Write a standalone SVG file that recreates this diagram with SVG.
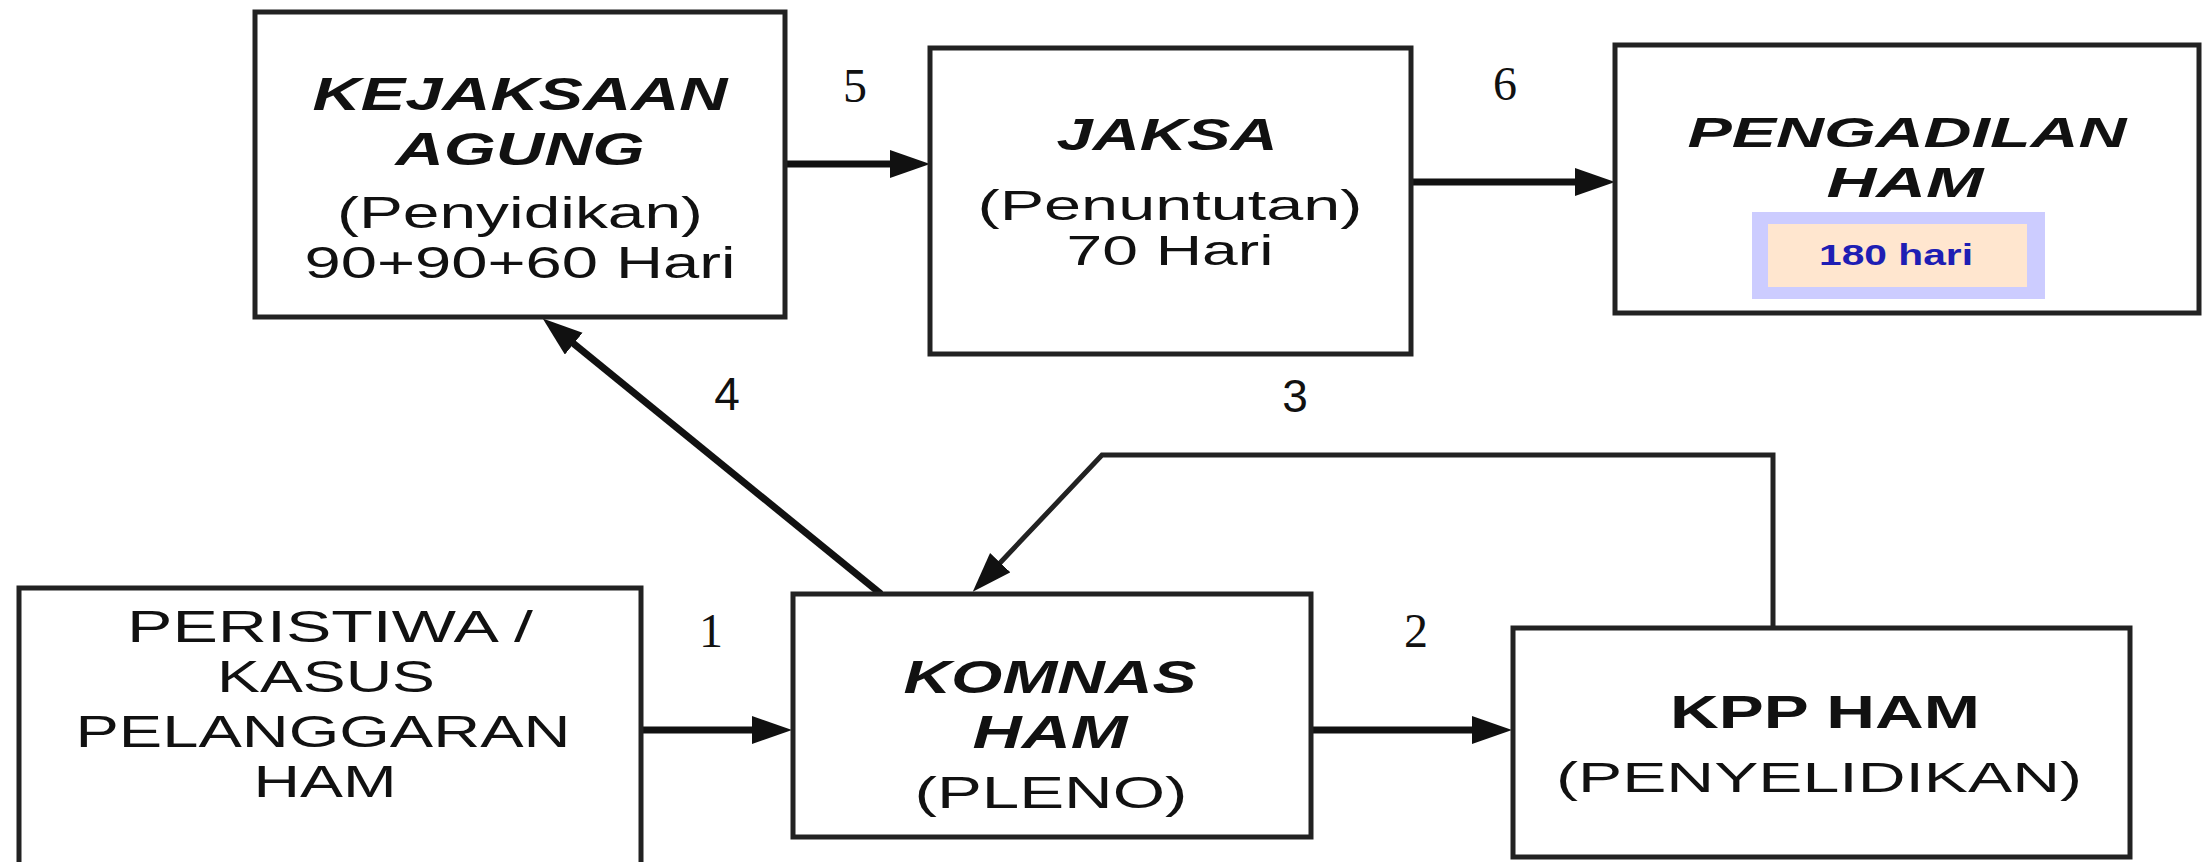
<svg xmlns="http://www.w3.org/2000/svg" width="2206" height="862" viewBox="0 0 2206 862">
  <style>
    .box { fill: #ffffff; stroke: #222222; stroke-width: 5; }
    .t { font-family: "Liberation Sans", Arial, sans-serif; fill: #111111; text-anchor: middle; }
    .title { font-weight: bold; font-style: italic; }
    .bold { font-weight: bold; }
    .num { font-family: "Liberation Serif", "Times New Roman", serif; font-size: 48px; fill: #111111; text-anchor: middle; }
    .nums { font-family: "Liberation Sans", Arial, sans-serif; font-size: 46px; fill: #111111; text-anchor: middle; }
    .flow { fill: none; stroke: #111111; stroke-width: 7; }
    .flow-thin { fill: none; stroke: #222222; stroke-width: 5; }
  </style>
  <defs>
    <marker id="head" markerUnits="userSpaceOnUse" markerWidth="42" markerHeight="30" refX="28" refY="14" orient="auto">
      <path d="M0,0 L40,14 L0,28 z" fill="#111111"/>
    </marker>
  </defs>

  <rect width="2206" height="862" fill="#ffffff"/>

  <!-- connectors -->
  <g id="connectors">
    <path class="flow" d="M640,730 L780,730" marker-end="url(#head)"/>
    <path class="flow" d="M1311,730 L1500,730" marker-end="url(#head)"/>
    <path class="flow-thin" d="M1773,628 V455 H1102 L981,583" marker-end="url(#head)"/>
    <path class="flow" d="M881,594 L552,326" marker-end="url(#head)"/>
    <path class="flow" d="M785,164 L918,164" marker-end="url(#head)"/>
    <path class="flow" d="M1411,182 L1603,182" marker-end="url(#head)"/>
    <text class="num" x="711" y="647">1</text>
    <text class="num" x="1416" y="647">2</text>
    <text class="nums" x="1295" y="412">3</text>
    <text class="nums" x="727" y="410">4</text>
    <text class="num" x="855" y="102">5</text>
    <text class="num" x="1505" y="100">6</text>
  </g>

  <g id="kejaksaan">
    <rect class="box" x="255" y="12" width="530" height="305"/>
    <text class="t title" x="520" y="110" font-size="47" textLength="415" lengthAdjust="spacingAndGlyphs">KEJAKSAAN</text>
    <text class="t title" x="520" y="165" font-size="47" textLength="249" lengthAdjust="spacingAndGlyphs">AGUNG</text>
    <text class="t" x="520" y="228" font-size="44" textLength="366" lengthAdjust="spacingAndGlyphs">(Penyidikan)</text>
    <text class="t" x="520" y="278" font-size="44" textLength="431" lengthAdjust="spacingAndGlyphs">90+90+60 Hari</text>
  </g>

  <g id="jaksa">
    <rect class="box" x="930" y="48" width="481" height="306"/>
    <text class="t title" x="1167" y="150" font-size="44" textLength="221" lengthAdjust="spacingAndGlyphs">JAKSA</text>
    <text class="t" x="1170" y="220" font-size="42" textLength="385" lengthAdjust="spacingAndGlyphs">(Penuntutan)</text>
    <text class="t" x="1170" y="265" font-size="42" textLength="207" lengthAdjust="spacingAndGlyphs">70 Hari</text>
  </g>

  <g id="pengadilan">
    <rect class="box" x="1615" y="45" width="584" height="268"/>
    <text class="t title" x="1907" y="147" font-size="42" textLength="439" lengthAdjust="spacingAndGlyphs">PENGADILAN</text>
    <text class="t title" x="1905" y="197" font-size="42" textLength="157" lengthAdjust="spacingAndGlyphs">HAM</text>
    <rect x="1752" y="212" width="293" height="87" fill="#ccccff"/>
    <rect x="1768" y="224" width="259" height="63" fill="#ffe6cf"/>
    <text class="t bold" x="1896" y="265" font-size="30" fill="#1e1eb4" style="fill:#1e1eb4" textLength="154" lengthAdjust="spacingAndGlyphs">180 hari</text>
  </g>

  <g id="peristiwa">
    <rect class="box" x="19" y="588" width="622" height="278"/>
    <text class="t" x="330" y="642" font-size="44" textLength="406" lengthAdjust="spacingAndGlyphs">PERISTIWA /</text>
    <text class="t" x="326" y="692" font-size="44" textLength="218" lengthAdjust="spacingAndGlyphs">KASUS</text>
    <text class="t" x="323" y="747" font-size="44" textLength="495" lengthAdjust="spacingAndGlyphs">PELANGGARAN</text>
    <text class="t" x="325" y="797" font-size="44" textLength="143" lengthAdjust="spacingAndGlyphs">HAM</text>
  </g>

  <g id="komnas">
    <rect class="box" x="793" y="594" width="518" height="243"/>
    <text class="t title" x="1050" y="693" font-size="46" textLength="293" lengthAdjust="spacingAndGlyphs">KOMNAS</text>
    <text class="t title" x="1050" y="748" font-size="46" textLength="155" lengthAdjust="spacingAndGlyphs">HAM</text>
    <text class="t" x="1051" y="808" font-size="44" textLength="273" lengthAdjust="spacingAndGlyphs">(PLENO)</text>
  </g>

  <g id="kpp">
    <rect class="box" x="1513" y="628" width="617" height="229"/>
    <text class="t bold" x="1825" y="728" font-size="46" textLength="310" lengthAdjust="spacingAndGlyphs">KPP HAM</text>
    <text class="t" x="1819" y="792" font-size="42" textLength="526" lengthAdjust="spacingAndGlyphs">(PENYELIDIKAN)</text>
  </g>
</svg>
